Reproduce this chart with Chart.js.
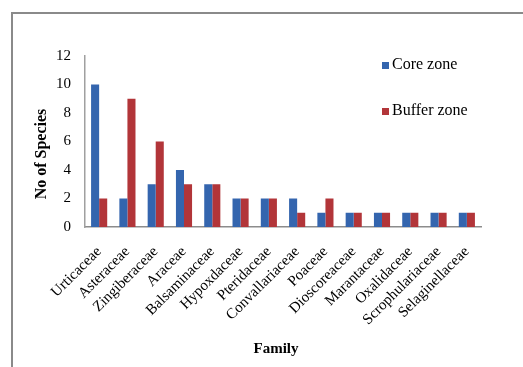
<!DOCTYPE html>
<html>
<head>
<meta charset="utf-8">
<script src="https://cdn.jsdelivr.net/npm/chart.js@4"></script>
<style>
  html, body { margin: 0; padding: 0; background: #fff; }
  #frame {
    position: absolute; left: 11px; top: 12px; width: 530px; height: 380px;
    border-left: 2px solid #8a8a8a; border-top: 2px solid #8a8a8a;
  }
  #wrap { position: absolute; left: 0; top: 0; width: 523px; height: 367px; }
</style>
</head>
<body>
<div id="frame"></div>
<div id="wrap"><canvas id="chart" width="523" height="367"></canvas></div>
<script>
// family names along the x axis
var families = ['Urticaceae', 'Asteraceae', 'Zingiberaceae', 'Araceae', 'Balsaminaceae',
    'Hypoxdaceae', 'Pteridaceae', 'Convallariaceae', 'Poaceae', 'Dioscoreaceae',
    'Marantaceae', 'Oxalidaceae', 'Scrophulariaceae', 'Selaginellaceae'];
var coreZone = [10, 2, 3, 4, 3, 2, 2, 2, 1, 1, 1, 1, 1, 1];
var bufferZone = [2, 9, 6, 3, 3, 2, 2, 1, 2, 1, 1, 1, 1, 1];
var yTicks = [0, 2, 4, 6, 8, 10, 12];

var serif = 'Liberation Serif';

// legend drawn inside the plot, top right, like the excel original
var sideLegend = {
    id: 'sideLegend',
    afterDraw: function (chart) {
        var ctx = chart.ctx;
        var area = chart.chartArea;
        ctx.save();
        ctx.font = '16px "' + serif + '"';
        ctx.textBaseline = 'middle';
        ctx.textAlign = 'left';
        chart.data.datasets.forEach(function (ds, i) {
            var x = area.right - 99;
            var y = area.top + 9 + i * 46;
            ctx.fillStyle = ds.backgroundColor;
            ctx.fillRect(x, y - 3, 7, 7);
            ctx.fillStyle = '#000';
            ctx.fillText(ds.label, x + 10, y);
        });
        ctx.restore();
    }
};

// axis titles
var axisTitles = {
    id: 'axisTitles',
    afterDraw: function (chart) {
        var ctx = chart.ctx;
        ctx.save();
        ctx.fillStyle = '#000';
        ctx.textAlign = 'center';
        ctx.textBaseline = 'middle';
        ctx.font = 'bold 15px "' + serif + '"';
        ctx.fillText('Family', 276, 349);
        ctx.font = 'bold 16px "' + serif + '"';
        ctx.translate(42, 154);
        ctx.rotate(-Math.PI / 2);
        ctx.fillText('No of Species', 0, 0);
        ctx.restore();
    }
};

var ctx = document.getElementById('chart');
var chart = new Chart(ctx, {
    type: 'bar',
    data: {
        labels: families,
        datasets: [
            { label: 'Core zone', data: coreZone, backgroundColor: '#3465ae' },
            { label: 'Buffer zone', data: bufferZone, backgroundColor: '#b23539' }
        ]
    },
    options: {
        responsive: false,
        animation: false,
        categoryPercentage: 0.57,
        barPercentage: 1.0,
        layout: { padding: { left: 0, top: 56, right: 42, bottom: 0 } },
        plugins: {
            legend: { display: false },
            tooltip: { enabled: false }
        },
        scales: {
            x: {
                grid: { display: false, drawTicks: false },
                border: { color: '#8c8c8c', width: 1.5 },
                ticks: {
                    autoSkip: false,
                    maxRotation: 45,
                    minRotation: 45,
                    padding: 16,
                    color: '#000',
                    font: { family: serif, size: 15 }
                },
                afterFit: function (axis) { axis.height = 140; }
            },
            y: {
                min: 0,
                max: 12,
                grid: { display: false, drawTicks: false },
                border: { color: '#a0a0a0', width: 1.5 },
                afterBuildTicks: function (axis) {
                    axis.ticks = yTicks.map(function (v) { return { value: v }; });
                },
                ticks: {
                    padding: 14,
                    color: '#000',
                    font: { family: serif, size: 15 }
                },
                afterFit: function (axis) { axis.width = 85; }
            }
        }
    },
    plugins: [sideLegend, axisTitles]
});
</script>
</body>
</html>
